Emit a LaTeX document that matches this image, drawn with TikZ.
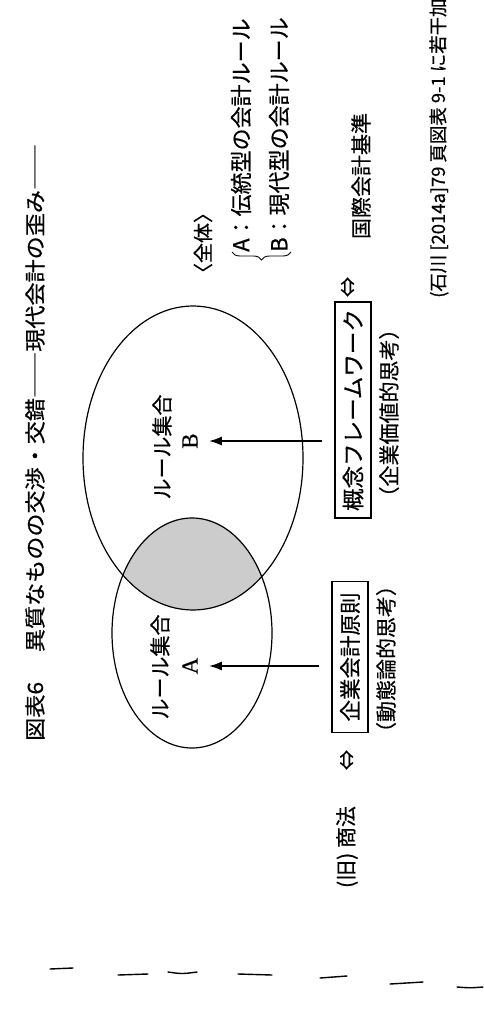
\documentclass[tikz,border=0pt]{standalone}
\usepackage{fontspec}
\newfontfamily\jp[FakeBold=0.5]{Noto Sans CJK JP}
\newfontfamily\serifl[FakeBold=0.4]{Liberation Serif}
\usetikzlibrary{arrows.meta,decorations.pathreplacing,shapes.geometric}
\begin{document}
\begin{tikzpicture}[x=1pt,y=-1pt,
  txt/.style={rotate=90,inner sep=0pt,font=\jp\fontsize{21}{21}\selectfont},
  lab/.style={rotate=90,inner sep=0pt,font=\serifl\fontsize{23}{23}\selectfont},
  setel/.style={draw,ellipse,line width=1.2pt,inner sep=0pt},
  framebox/.style={rotate=90,draw,line width=1.3pt,inner sep=0pt,minimum height=36pt},
  arr/.style={line width=2pt,-{Latex[length=13pt,width=9pt]}},
  dashmark/.style={line width=1.4pt,line cap=round}
]
\useasboundingbox (0,0) rectangle (483,1033);
\fill[white] (0,0) rectangle (483,1033);

% title
\node[txt,anchor=west,xscale=1.1] (title) at (35,741) {図表6\hspace{27pt}異質なものの交渉・交錯――現代会計の歪み――};

% shaded intersection
\begin{scope}
  \clip (192,633) ellipse [x radius=80pt, y radius=115pt];
  \fill[gray!40] (193,458) ellipse [x radius=110pt, y radius=152pt];
\end{scope}

% sets
\node[setel,minimum width=220pt,minimum height=304pt] (eB) at (193,458) {};
\node[setel,minimum width=160pt,minimum height=230pt] (eA) at (192,633) {};

\node[txt] (setB) at (162,447) {ルール集合};
\node[lab] (labB) at (190,441) {B};
\node[txt] (setA) at (160,667) {ルール集合};
\node[lab] (labA) at (190,666) {A};

% boxes
\node[framebox,minimum width=151pt,font=\jp\fontsize{21.5}{21.5}\selectfont] (boxA) at (350,657) {企業会計原則};
\node[framebox,minimum width=216pt,font=\jp\fontsize{22.5}{22.5}\selectfont] (boxB) at (353,410) {概念フレームワーク};

\node[txt] (thA) at (386,659) {（動態論的思考）};
\node[txt] (thB) at (389,413) {（企業価値的思考）};

\draw[arr,shorten <=12pt,shorten >=11pt] (labA -| boxA.north) -- (labA.south);
\draw[arr,shorten <=12pt,shorten >=11pt] (labB -| boxB.north) -- (labB.south);

% equivalences
\node[txt,font=\jp\fontsize{20}{20}\selectfont] (eqA) at (347,760) {⇔};
\node[txt] (law) at (347,847) {(旧) 商法};
\node[txt,font=\jp\fontsize{20}{20}\selectfont] (eqB) at (348,287) {⇔};
\node[txt] (ias) at (361,176) {国際会計基準};

% whole
\node[txt,font=\jp\fontsize{20}{20}\selectfont] (whole) at (203,243) {〈全体〉};
\coordinate (brR) at (291,252);
\coordinate (brL) at (232,252);
\draw[decorate,decoration={brace,amplitude=8pt},line width=0.9pt] (brR) -- (brL);
\node[txt,anchor=west,font=\jp\fontsize{22}{22}\selectfont] (defA) at (241,252) {A：伝統型の会計ルール};
\node[txt,anchor=west,font=\jp\fontsize{22}{22}\selectfont] (defB) at (279,252) {B：現代型の会計ルール};

% source
\node[txt,anchor=west,font=\jp\fontsize{18.4}{18.4}\selectfont] (src) at (439,298) {(石川 [2014a]79 頁図表 9-1 に若干加};

% marks at the bottom edge
\draw[dashmark] (50,969) -- (73,968);
\draw[dashmark] (118,975) -- (148,974);
\draw[dashmark] (168,972) .. controls (182,974) .. (197,972);
\draw[dashmark] (238,974) -- (272,975);
\draw[dashmark] (320,978) -- (347,976);
\draw[dashmark] (390,984) -- (423,982);
\draw[dashmark] (457,987) .. controls (470,988) .. (483,987);
\end{tikzpicture}
\end{document}
